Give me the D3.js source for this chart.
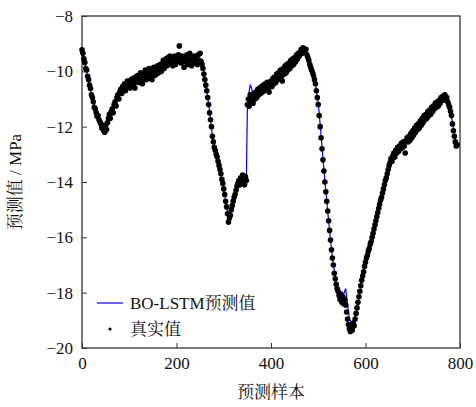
<!DOCTYPE html>
<html>
<head>
<meta charset="utf-8">
<script src="https://cdn.jsdelivr.net/npm/d3@7"></script>
<style>
  body { margin: 0; background: #fff; }
  svg text { font-family: "Liberation Serif", "Times New Roman", "Noto Serif CJK SC", "Noto Sans CJK SC", serif; }
</style>
</head>
<body>
<div class="chart"></div>
<script>
// true values, one every 2 samples (0, 2, 4 ... 794)
const trueValues = [
  -9.22, -9.35, -9.55, -9.68, -9.9, -9.95, -10.18, -10.3, -10.5, -10.62,
  -10.85, -10.95, -11.1, -11.3, -11.35, -11.5, -11.62, -11.6, -11.75, -11.82,
  -11.9, -12.05, -11.95, -12.15, -12.2,
  -11.95, -12.1, -11.85, -11.7, -11.55, -11.7, -11.45, -11.35, -11.5, -11.2,
  -11.1, -11.25, -10.95, -10.85, -11.0, -10.75, -10.65, -10.8, -10.55, -10.6,
  -10.45, -10.7, -10.5, -10.35, -10.55,
  -10.4, -10.6, -10.3, -10.5, -10.25, -10.45, -10.6, -10.2, -10.35, -10.15,
  -10.4, -10.25, -10.05, -10.3, -10.45, -10.1, -10.2, -9.95, -10.3, -10.1,
  -10.25, -9.9, -10.15, -10.0, -10.3,
  -10.05, -9.85, -10.15, -9.95, -10.1, -9.8, -10.05, -9.9, -9.75, -10.0,
  -9.85, -9.6, -9.9, -9.7, -9.55, -9.8, -9.5, -9.65, -9.45, -9.7,
  -9.55, -9.8, -9.6, -9.45, -9.75,
  -9.5, -9.65, -9.4, -9.08, -9.55, -9.7, -9.45, -9.6, -9.85, -9.5,
  -9.65, -9.4, -9.75, -9.55, -9.35, -9.6, -9.8, -9.5, -9.65, -9.45,
  -9.7, -9.55, -9.75, -9.4, -9.6,
  -9.35, -9.65, -9.75, -9.9, -10.1, -10.3, -10.5, -10.7, -10.95, -11.2,
  -11.5, -11.75, -12.0, -12.35, -12.55, -12.75, -12.85, -13.0, -13.1, -13.25,
  -13.4, -13.55, -13.7, -13.9, -14.05,
  -14.25, -14.45, -14.7, -14.9, -15.15, -15.45, -15.3, -15.2, -15.0, -14.85,
  -14.7, -14.55, -14.45, -14.3, -14.15, -14.05, -13.95, -14.1, -13.85, -14.0,
  -13.75, -13.9, -14.1, -13.8, -13.95,
  -11.2, -11.0, -11.25, -10.85, -11.1, -10.95, -11.15, -10.8, -11.0, -10.75,
  -10.95, -10.65, -10.85, -10.6, -10.8, -10.55, -10.75, -10.5, -10.7, -10.45,
  -10.65, -10.4, -10.6, -10.75, -10.45,
  -10.35, -10.55, -10.25, -10.45, -10.2, -10.4, -10.1, -10.3, -10.05, -10.25,
  -9.95, -10.2, -10.35, -9.9, -10.1, -9.8, -10.05, -9.75, -9.95, -9.7,
  -9.9, -9.6, -9.8, -9.55, -9.75,
  -9.5, -9.65, -9.4, -9.55, -9.35, -9.45, -9.3, -9.2, -9.35, -9.15,
  -9.25, -9.3, -9.2, -9.4, -9.5, -9.6, -9.75, -9.85, -9.95, -10.05,
  -10.15, -10.3, -10.45, -10.7, -10.95,
  -11.2, -11.6, -12.0, -12.4, -12.8, -13.2, -13.6, -14.0, -14.35, -14.7,
  -15.05, -15.4, -15.75, -16.1, -16.45, -16.75, -17.0, -17.3, -17.5, -17.7,
  -17.85, -17.95, -18.1, -18.25, -18.05,
  -18.35, -18.15, -18.4, -18.25, -18.45, -18.7, -18.95, -19.15, -19.3, -19.4,
  -19.25, -19.35, -19.1, -19.2, -18.95, -18.75, -18.55, -18.35, -18.15, -17.95,
  -17.75, -17.55, -17.4, -17.25, -17.05,
  -16.9, -16.75, -16.65, -16.5, -16.4, -16.25, -16.15, -16.0, -15.85, -15.7,
  -15.55, -15.4, -15.25, -15.1, -14.95, -14.8, -14.65, -14.55, -14.4, -14.25,
  -14.1, -13.95, -13.85, -13.7, -13.55,
  -13.4, -13.3, -13.15, -13.25, -13.05, -12.95, -13.1, -12.85, -12.95, -12.75,
  -12.9, -12.7, -12.8, -12.6, -12.75, -12.55, -12.7, -12.95, -12.5, -12.4,
  -12.55, -12.35, -12.5, -12.25, -12.4,
  -12.15, -12.3, -12.05, -12.2, -11.95, -12.1, -11.9, -12.05, -11.8, -11.95,
  -11.7, -11.85, -11.6, -11.75, -11.55, -11.7, -11.45, -11.6, -11.4, -11.55,
  -11.3, -11.45, -11.25, -11.35, -11.15,
  -11.3, -11.1, -11.25, -11.05, -11.15, -10.95, -11.05, -10.9, -11.0, -10.85,
  -11.05, -10.95, -11.1, -11.2, -11.3, -11.45, -11.6, -11.9, -12.15, -12.35,
  -12.55, -12.7, -12.65
];

// BO-LSTM prediction: sample index and value
const predSamples = [
  0, 5, 10, 15, 20, 25, 30, 35, 40, 45, 50, 55, 60, 65, 70, 75, 80, 85, 90, 95,
  100, 105, 110, 115, 120, 125, 130, 135, 140, 145, 150, 155, 160, 165, 170, 175, 180, 185, 190, 195,
  200, 205, 210, 215, 220, 225, 230, 235, 240, 245, 250, 255, 260, 265, 270, 275, 280, 285, 290, 295,
  300, 305, 310, 315, 320, 325, 330, 335, 340, 345, 348, 350, 353, 356, 359, 362, 366, 370, 375, 380,
  385, 390, 395, 400, 405, 410, 415, 420, 425, 430, 435, 440, 445, 450, 455, 460, 465, 470, 475, 480,
  485, 490, 495, 500, 505, 510, 515, 520, 525, 530, 535, 540, 545, 550, 555, 558, 562, 566, 570, 575,
  580, 585, 590, 595, 600, 605, 610, 615, 620, 625, 630, 635, 640, 645, 650, 655, 660, 665, 670, 675,
  680, 685, 690, 695, 700, 705, 710, 715, 720, 725, 730, 735, 740, 745, 750, 755, 760, 765, 770, 775,
  780, 785, 790, 794
];
const predValues = [
  -9.25, -9.6, -10.0, -10.45, -10.8, -11.15, -11.45, -11.65, -11.85, -11.95, -11.95, -11.75, -11.55, -11.35, -11.15, -10.95, -10.8, -10.7, -10.6, -10.55,
  -10.45, -10.4, -10.35, -10.3, -10.3, -10.2, -10.2, -10.15, -10.1, -10.05, -10.0, -10.0, -9.95, -9.9, -9.8, -9.75, -9.65, -9.6, -9.65, -9.6,
  -9.55, -9.5, -9.6, -9.6, -9.55, -9.6, -9.55, -9.6, -9.6, -9.6, -9.55, -9.75, -10.25, -10.8, -11.45, -12.2, -12.7, -13.05, -13.4, -13.8,
  -14.25, -14.8, -15.25, -15.15, -14.75, -14.4, -14.1, -13.9, -13.75, -13.75, -13.75, -11.3, -10.8, -10.5, -10.6, -10.9, -11.0, -10.9, -10.8, -10.7,
  -10.65, -10.55, -10.55, -10.45, -10.35, -10.3, -10.2, -10.1, -10.05, -9.95, -9.85, -9.75, -9.65, -9.55, -9.45, -9.35, -9.25, -9.25, -9.35, -9.55,
  -9.85, -10.15, -10.55, -11.15, -12.1, -13.15, -14.15, -15.05, -15.95, -16.75, -17.3, -17.8, -18.1, -18.2, -18.0, -17.85, -18.4, -18.95, -19.1, -19.0,
  -18.75, -18.3, -17.8, -17.3, -16.95, -16.6, -16.3, -15.95, -15.6, -15.2, -14.8, -14.45, -14.1, -13.75, -13.45, -13.2, -13.0, -12.9, -12.8, -12.7,
  -12.65, -12.55, -12.45, -12.35, -12.2, -12.1, -12.0, -11.9, -11.8, -11.7, -11.6, -11.5, -11.4, -11.3, -11.2, -11.15, -11.05, -10.95, -10.95, -11.1,
  -11.4, -11.95, -12.45, -12.65
];

const xTicks = [0, 200, 400, 600, 800];
const yTicks = [-8, -10, -12, -14, -16, -18, -20];

let width = 476;
let height = 407;
let margin = { top: 16, right: 16, bottom: 59, left: 82 };

let svg = d3.select(".chart")
  .append("svg")
  .attr("width", width)
  .attr("height", height);

let x = d3.scaleLinear()
  .domain([0, 800])
  .range([margin.left, width - margin.right]);

let y = d3.scaleLinear()
  .domain([-20, -8])
  .range([height - margin.bottom, margin.top]);

let fmt = d => String(d).replace("-", "\u2212");

// axes, ticks pointing inwards
let xAxis = svg.append("g")
  .attr("transform", `translate(0,${height - margin.bottom})`)
  .call(d3.axisBottom(x).tickValues(xTicks).tickSize(-5).tickPadding(9).tickFormat(fmt));

let yAxis = svg.append("g")
  .attr("transform", `translate(${margin.left},0)`)
  .call(d3.axisLeft(y).tickValues(yTicks).tickSize(-5).tickPadding(9).tickFormat(fmt));

[xAxis, yAxis].forEach(g => {
  g.select(".domain").remove();
  g.selectAll(".tick line").attr("stroke", "#333");
  g.selectAll("text").attr("font-size", 17).attr("fill", "#111");
});

svg.append("rect")
  .attr("x", margin.left)
  .attr("y", margin.top)
  .attr("width", width - margin.left - margin.right)
  .attr("height", height - margin.top - margin.bottom)
  .attr("fill", "none")
  .attr("stroke", "#333")
  .attr("stroke-width", 1.3);

// prediction line
let pred = predSamples.map((s, i) => [s, predValues[i]]);

let line = d3.line()
  .x(d => x(d[0]))
  .y(d => y(d[1]));

svg.append("path")
  .datum(pred)
  .attr("d", line)
  .attr("fill", "none")
  .attr("stroke", "#0000ff")
  .attr("stroke-width", 1.2);

// true values
svg.selectAll("circle.real")
  .data(trueValues)
  .enter()
  .append("circle")
  .attr("class", "real")
  .attr("cx", (d, i) => x(i * 2))
  .attr("cy", d => y(d))
  .attr("r", 2.8)
  .attr("fill", "#000");

// axis titles
svg.append("text")
  .attr("x", (margin.left + width - margin.right) / 2)
  .attr("y", 398)
  .attr("text-anchor", "middle")
  .attr("font-size", 17)
  .attr("fill", "#111")
  .text("预测样本");

svg.append("text")
  .attr("transform", `translate(21,${(margin.top + height - margin.bottom) / 2}) rotate(-90)`)
  .attr("text-anchor", "middle")
  .attr("font-size", 17)
  .attr("fill", "#111")
  .text("预测值 / MPa");

// legend
let legend = svg.append("g");

legend.append("line")
  .attr("x1", 97).attr("x2", 123)
  .attr("y1", 303).attr("y2", 303)
  .attr("stroke", "#0000ff")
  .attr("stroke-width", 1.2);

legend.append("text")
  .attr("x", 130).attr("y", 309)
  .attr("font-size", 17)
  .attr("fill", "#111")
  .text("BO-LSTM预测值");

legend.append("circle")
  .attr("cx", 110).attr("cy", 329)
  .attr("r", 1.6)
  .attr("fill", "#000");

legend.append("text")
  .attr("x", 130).attr("y", 335)
  .attr("font-size", 17)
  .attr("fill", "#111")
  .text("真实值");
</script>
</body>
</html>
